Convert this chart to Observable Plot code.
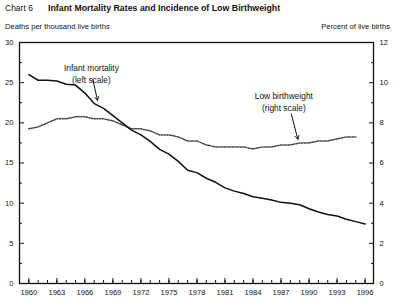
<!DOCTYPE html>
<html>
<head>
<meta charset="utf-8">
<script src="https://cdn.jsdelivr.net/npm/d3@7"></script>
<script src="https://cdn.jsdelivr.net/npm/@observablehq/plot@0.6"></script>
<style>
  html, body { margin: 0; padding: 0; background: #fff; }
  #wrap { position: relative; width: 400px; height: 307px; font-family: "Liberation Sans", Arial, sans-serif; color: #111; }
  #wrap svg { position: absolute; left: 0; top: 0; }
  .lbl { position: absolute; white-space: nowrap; }
</style>
</head>
<body>
<div id="wrap">
  <div class="lbl" style="left:5px; top:3px; font-size:8.5px;">Chart 6</div>
  <div class="lbl" style="left:48px; top:3px; font-size:8.8px; font-weight:bold;">Infant Mortality Rates and Incidence of Low Birthweight</div>
  <div class="lbl" style="left:5px; top:22px; font-size:7.6px;">Deaths per thousand live births</div>
  <div class="lbl" style="right:10px; top:22px; font-size:7.6px;">Percent of live births</div>
</div>
<script>
// Data
const years = d3.range(1960, 1997);
const infantMortality = [26.0, 25.3, 25.3, 25.2, 24.8, 24.7, 23.7, 22.4, 21.8, 20.9,
  20.0, 19.1, 18.5, 17.7, 16.7, 16.1, 15.2, 14.1, 13.8, 13.1,
  12.6, 11.9, 11.5, 11.2, 10.8, 10.6, 10.4, 10.1, 10.0, 9.8,
  9.3, 8.9, 8.6, 8.4, 8.0, 7.7, 7.4];
const lbwYears = d3.range(1960, 1996);
const lowBirthweight = [7.7, 7.8, 8.0, 8.2, 8.2, 8.3, 8.3, 8.2, 8.2, 8.1,
  7.9, 7.7, 7.7, 7.6, 7.4, 7.4, 7.3, 7.1, 7.1, 6.9,
  6.8, 6.8, 6.8, 6.8, 6.7, 6.8, 6.8, 6.9, 6.9, 7.0,
  7.0, 7.1, 7.1, 7.2, 7.3, 7.3];
const leftTicks = [0, 5, 10, 15, 20, 25, 30];
const leftMinor = [2.5, 7.5, 12.5, 17.5, 22.5, 27.5];
const rightTicks = [0, 2, 4, 6, 8, 10, 12];
const rightMinor = [1, 3, 5, 7, 9, 11];
const majorYears = d3.range(1960, 1997, 3);
const annotations = [
  {x: 1966.7, y: 26.2, text: "Infant mortality\n(left scale)", ax1: 1966.85, ay1: 25.4, ax2: 1967.35, ay2: 22.8},
  {x: 1987.3, y: 22.7, text: "Low birthweight\n(right scale)", ax1: 1988.1, ay1: 21.1, ax2: 1988.8, ay2: 17.95}
];

const ratio = 30 / 12; // right scale -> left scale
const im = years.map((y, i) => ({year: y, v: infantMortality[i]}));
const lbw = lbwYears.map((y, i) => ({year: y, v: lowBirthweight[i] * ratio}));

const chart = Plot.plot({
  width: 400,
  height: 307,
  marginLeft: 19,
  marginRight: 27,
  marginTop: 42,
  marginBottom: 24,
  style: {fontFamily: '"Liberation Sans", Arial, sans-serif', fontSize: "7.6px", color: "#111", background: "transparent"},
  x: {domain: [1959, 1996.9], axis: null},
  y: {domain: [0, 30], axis: null},
  marks: [
    Plot.frame({stroke: "#111", strokeWidth: 1.3}),
    // x ticks
    Plot.axisX({anchor: "bottom", ticks: years, tickSize: -3, text: null, stroke: "#111"}),
    Plot.axisX({anchor: "bottom", ticks: majorYears, tickSize: -5, tickPadding: 11, tickFormat: d => String(d), stroke: "#111", fill: "#111"}),
    // left axis
    Plot.axisY({anchor: "left", ticks: leftMinor, tickSize: -3, text: null, stroke: "#111"}),
    Plot.axisY({anchor: "left", ticks: leftTicks, tickSize: -5, tickPadding: 11, tickFormat: d => String(d), stroke: "#111", fill: "#111"}),
    // right axis
    Plot.axisY({anchor: "right", ticks: rightMinor.map(d => d * ratio), tickSize: -3, text: null, stroke: "#111"}),
    Plot.axisY({anchor: "right", ticks: rightTicks.map(d => d * ratio), tickSize: -5, tickPadding: 11, tickFormat: d => String(Math.round(d / ratio)), stroke: "#111", fill: "#111"}),
    // lines
    Plot.line(lbw, {x: "year", y: "v", stroke: "#444", strokeWidth: 1.5, strokeDasharray: "1.3,1.4", curve: "linear"}),
    Plot.line(im, {x: "year", y: "v", stroke: "#111", strokeWidth: 1.5}),
    // annotations
    Plot.text(annotations, {x: "x", y: "y", text: "text", fontSize: 8.4, lineHeight: 1.4, fill: "#111", textAnchor: "middle"}),
    Plot.arrow(annotations, {x1: "ax1", y1: "ay1", x2: "ax2", y2: "ay2", stroke: "#111", strokeWidth: 1, headLength: 6})
  ]
});
document.getElementById("wrap").prepend(chart);
</script>
</body>
</html>
